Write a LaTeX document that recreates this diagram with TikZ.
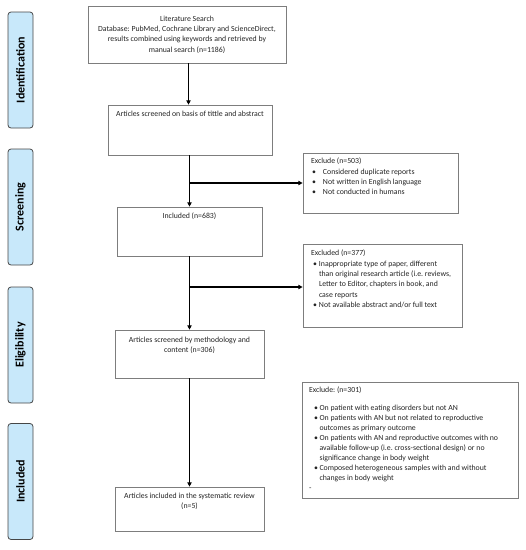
\documentclass[tikz,border=0pt]{standalone}
\usepackage{fontspec}
\setmainfont{Carlito}
\usetikzlibrary{arrows.meta}
\definecolor{sidefill}{RGB}{200,232,250}
\definecolor{sidedraw}{RGB}{70,70,70}
\definecolor{boxdraw}{RGB}{125,125,125}
\definecolor{txt}{RGB}{35,35,35}
\frenchspacing
\newcommand{\fs}{\fontsize{7.8pt}{10.4pt}\selectfont}
\newcommand{\fsc}{\fontsize{7.8pt}{10pt}\selectfont}
\newcommand{\bitem}[3]{\par\hangindent=#2pt\hangafter=1\noindent\makebox[#2pt][l]{\hspace{#1pt}\textbullet}#3}
\begin{document}
\begin{tikzpicture}[x=1pt,y=-1pt,
  side/.style={draw=sidedraw, fill=sidefill, rounded corners=3pt, line width=0.8pt, rotate=90,
    minimum width=116pt, minimum height=25pt, inner sep=0pt, font=\bfseries\fontsize{12pt}{13pt}\selectfont, text=black},
  box/.style={draw=boxdraw, line width=0.7pt, inner sep=0pt, text=txt, font=\fs},
  arr/.style={line width=1.1pt, black, -{Triangle[width=4.2pt,length=4.2pt]}}]
\useasboundingbox (0,0) rectangle (526,550);

% side labels
\node[side] (sid) at (20.5,70) {Identification};
\node[side] (ssc) at (20.5,207) {Screening};
\node[side] (sel) at (20.5,345) {Eligibility};
\node[side] (sin) at (20.5,481.5) {Included};

% main boxes
\node[box, minimum width=198pt, minimum height=57pt, align=center] (lit) at (187,34.5)
  {Literature Search\\Database: PubMed, Cochrane Library and ScienceDirect,\\results combined using keywords and retrieved by\\manual search (n=1186)};
\node[box] (scr) at (190,130)
  {\parbox[c][50pt][t]{164pt}{\centering\vspace{6pt}Articles screened on basis of tittle and abstract}};
\node[box] (inc) at (189.5,231.5)
  {\parbox[c][49pt][t]{145pt}{\centering\vspace{6pt}Included (n=683)}};
\node[box] (meth) at (189.5,354)
  {\parbox[c][48pt][t]{149pt}{\centering\vspace{7pt}Articles screened by methodology and\\content (n=306)}};
\node[box] (fin) at (189.5,509)
  {\parbox[c][44pt][t]{149pt}{\centering\vspace{6pt}Articles included in the systematic review\\(n=5)}};

% exclusion boxes
\node[box] (exa) at (380.5,183)
  {\parbox[c][60pt][t]{155pt}{\hspace*{8pt}\parbox[t]{145pt}{\fs\raggedright\vspace{5pt}\noindent Exclude (n=503)%
   \bitem{1}{12}{Considered duplicate reports}%
   \bitem{1}{12}{Not written in English language}%
   \bitem{1}{12}{Not conducted in humans}}}};
\node[box] (exb) at (382.5,285.5)
  {\parbox[c][83pt][t]{159pt}{\hspace*{8pt}\parbox[t]{150pt}{\fs\raggedright\vspace{6pt}\noindent Excluded (n=377)%
   \bitem{2}{8}{Inappropriate type of paper, different\newline than original research article (i.e. reviews,\newline Letter to Editor, chapters in book, and\newline case reports}%
   \bitem{2}{8}{Not available abstract and/or full text}}}};
\node[box] (exc) at (410,440)
  {\parbox[c][116pt][t]{216pt}{\hspace*{7pt}\parbox[t]{208pt}{\fsc\raggedright\vspace{5pt}\noindent Exclude: (n=301)\par\vspace{8pt}%
   \bitem{5}{10.5}{On patient with eating disorders but not AN}%
   \bitem{5}{10.5}{On patients with AN but not related to reproductive\newline outcomes as primary outcome}%
   \bitem{5}{10.5}{On patients with AN and reproductive outcomes with no\newline available follow-up (i.e. cross-sectional design) or no\newline significance change in body weight}%
   \bitem{5}{10.5}{Composed heterogeneous samples with and without\newline changes in body weight}%
   \par\noindent-}}};

% connectors
\coordinate (ba) at (189.5,183);
\coordinate (bb) at (189.5,287);
\draw[arr] (lit.south -| 188.5,0) -- (188.5,0 |- scr.north);
\draw[arr] (scr.south -| 189.5,0) -- (189.5,0 |- inc.north);
\draw[arr] (ba) -- (ba -| exa.west);
\draw[arr] (inc.south) -- (meth.north);
\draw[arr] (bb) -- (bb -| exb.west);
\draw[arr] (meth.south) -- (fin.north);
\end{tikzpicture}
\end{document}
